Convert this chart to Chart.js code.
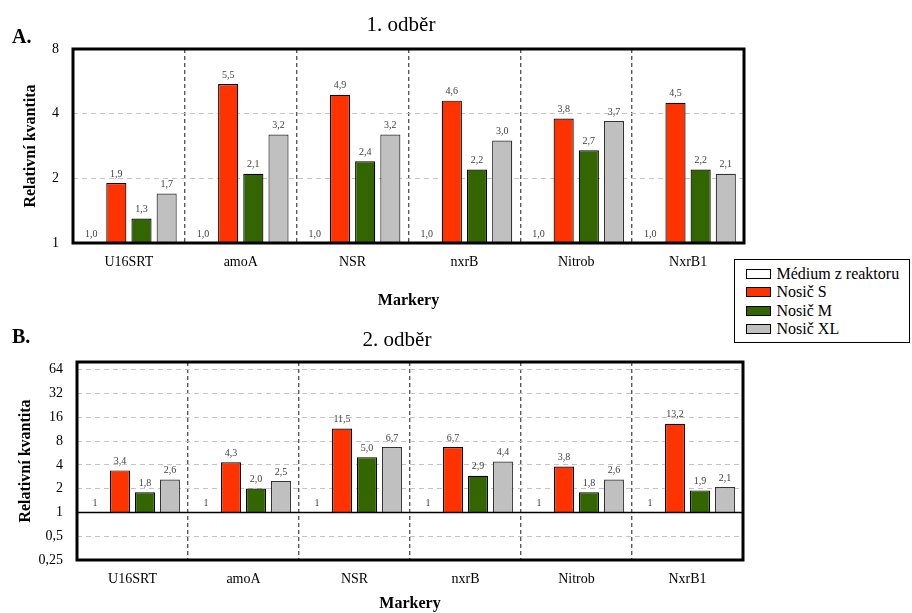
<!DOCTYPE html>
<html>
<head>
<meta charset="utf-8">
<script src="https://cdn.jsdelivr.net/npm/chart.js@4/dist/chart.umd.min.js"></script>
<style>
  html, body { margin: 0; padding: 0; background: #fff; }
  body { width: 912px; height: 613px; position: relative; overflow: hidden; font-family: "Liberation Serif", serif; }
  #c1 { position: absolute; left: 0; top: 0; }
  #c2 { position: absolute; left: 0; top: 313px; }
  #legend {
    position: absolute; left: 734px; top: 259px; width: 176px; height: 84px;
    box-sizing: border-box; border: 1.5px solid #000; background: #fff;
    padding: 5px 0 0 10.5px;
  }
  .row { display: flex; align-items: center; height: 18.3px; font-size: 16px; color: #000; white-space: nowrap; }
  .sw { width: 23px; height: 8px; border: 1px solid #000; margin-right: 6px; flex: none; }
</style>
</head>
<body>
<canvas id="c1" width="912" height="313"></canvas>
<canvas id="c2" width="912" height="300"></canvas>
<div id="legend"></div>
<script>
// Markers on the x axis
const categories = ['U16SRT', 'amoA', 'NSR', 'nxrB', 'Nitrob', 'NxrB1'];
const seriesNames = ['Médium z reaktoru', 'Nosič S', 'Nosič M', 'Nosič XL'];
const seriesColors = ['#FFFFFF', '#FF3300', '#336600', '#C0C0C0'];

// 1. odběr – relative quantity
const odber1Medium = [1.0, 1.0, 1.0, 1.0, 1.0, 1.0];
const odber1S      = [1.9, 5.5, 4.9, 4.6, 3.8, 4.5];
const odber1M      = [1.3, 2.1, 2.4, 2.2, 2.7, 2.2];
const odber1XL     = [1.7, 3.2, 3.2, 3.0, 3.7, 2.1];

// 2. odběr – relative quantity
const odber2Medium = [1, 1, 1, 1, 1, 1];
const odber2S      = [3.4, 4.3, 11.5, 6.7, 3.8, 13.2];
const odber2M      = [1.8, 2.0, 5.0, 2.9, 1.8, 1.9];
const odber2XL     = [2.6, 2.5, 6.7, 4.4, 2.6, 2.1];

// Log2 tick values of the y axes
const yTicks1 = [1, 2, 4, 8];
const yTicks2 = [0.25, 0.5, 1, 2, 4, 8, 16, 32, 64];

const SERIF = '"Liberation Serif", "Times New Roman", serif';

// Legend built from the series names and colours
const legendEl = document.getElementById('legend');
seriesNames.forEach((name, i) => {
  const row = document.createElement('div');
  row.className = 'row';
  const sw = document.createElement('span');
  sw.className = 'sw';
  sw.style.background = seriesColors[i];
  const tx = document.createElement('span');
  tx.textContent = name;
  row.appendChild(sw);
  row.appendChild(tx);
  legendEl.appendChild(row);
});

// Value labels above the bars
const valueLabels = {
  id: 'valueLabels',
  afterDatasetsDraw(chart, args, opts) {
    const ctx = chart.ctx;
    ctx.save();
    ctx.font = '10px ' + SERIF;
    ctx.fillStyle = '#404040';
    ctx.textAlign = 'center';
    ctx.textBaseline = 'middle';
    chart.data.datasets.forEach((ds, i) => {
      const meta = chart.getDatasetMeta(i);
      const dec = opts.decimals[i];
      meta.data.forEach((bar, j) => {
        const txt = ds.data[j].toFixed(dec).replace('.', ',');
        ctx.fillText(txt, bar.x, bar.y - 9);
      });
    });
    ctx.restore();
  }
};

// Heavy plot frame, optional solid reference line, heading and panel letter
const frame = {
  id: 'frame',
  afterDraw(chart, args, opts) {
    const ctx = chart.ctx;
    const a = chart.chartArea;
    ctx.save();
    if (opts.refLine !== undefined) {
      const y = chart.scales.y.getPixelForValue(opts.refLine);
      ctx.strokeStyle = '#000';
      ctx.lineWidth = 1.5;
      ctx.beginPath();
      ctx.moveTo(a.left, y);
      ctx.lineTo(a.right, y);
      ctx.stroke();
    }
    ctx.strokeStyle = '#000';
    ctx.lineWidth = 3;
    ctx.strokeRect(a.left, a.top, a.right - a.left, a.bottom - a.top);

    ctx.fillStyle = '#000';
    ctx.font = '21px ' + SERIF;
    ctx.textAlign = 'center';
    ctx.textBaseline = 'middle';
    ctx.fillText(opts.heading, opts.headingX, opts.headingY);

    ctx.font = 'bold 20px ' + SERIF;
    ctx.textAlign = 'left';
    ctx.textBaseline = 'alphabetic';
    ctx.fillText(opts.tag, 12, opts.tagY);
    ctx.restore();
  }
};

function buildChart(id, cfg) {
  const datasets = [cfg.medium, cfg.s, cfg.m, cfg.xl].map((data, i) => ({
    label: seriesNames[i],
    data: data,
    backgroundColor: seriesColors[i],
    borderColor: i === 3 ? '#333' : '#000',
    borderWidth: 1.2,
    base: 1,
    categoryPercentage: 0.9,
    barPercentage: 0.8
  }));
  return new Chart(document.getElementById(id), {
    type: 'bar',
    data: { labels: categories, datasets: datasets },
    plugins: [valueLabels, frame],
    options: {
      responsive: false,
      animation: false,
      devicePixelRatio: 1,
      layout: { padding: { left: cfg.padLeft, right: cfg.padRight, top: cfg.padTop, bottom: 0 } },
      plugins: {
        legend: { display: false },
        tooltip: { enabled: false },
        title: { display: false },
        valueLabels: { decimals: cfg.decimals },
        frame: {
          refLine: cfg.refLine, tag: cfg.tag, tagY: cfg.tagY,
          heading: cfg.heading, headingX: cfg.headingX, headingY: cfg.headingY
        }
      },
      scales: {
        x: {
          offset: true,
          grid: { display: true, offset: true, drawTicks: false, color: '#5a5a5a', lineWidth: 1.4 },
          border: { display: false, dash: [4, 3] },
          ticks: { color: '#000', padding: 11, font: { family: SERIF, size: 14 } },
          title: {
            display: true, text: 'Markery', color: '#000',
            font: { family: SERIF, size: 16, weight: 'bold' },
            padding: { top: 4, bottom: cfg.xTitleBottom }
          },
          afterFit(scale) { scale.height = cfg.xHeight; }
        },
        y: {
          type: 'logarithmic',
          min: cfg.yMin,
          max: cfg.yMax,
          afterBuildTicks(axis) { axis.ticks = cfg.yTicks.map(v => ({ value: v })); },
          grid: {
            drawTicks: false,
            lineWidth: 1,
            color: (ctx) => (ctx.tick && ctx.tick.value === cfg.refLine) ? 'rgba(0,0,0,0)' : '#c4c4c4'
          },
          border: { display: false, dash: [5, 4] },
          ticks: {
            autoSkip: false,
            color: '#000',
            padding: 14,
            font: { family: SERIF, size: 14 },
            callback: (v) => String(v).replace('.', ',')
          },
          title: {
            display: true, text: 'Relativní kvantita', color: '#000',
            font: { family: SERIF, size: 16, weight: 'bold' },
            padding: { top: 4, bottom: 4 }
          },
          afterFit(scale) { scale.width = cfg.yWidth; }
        }
      }
    }
  });
}

buildChart('c1', {
  heading: '1. odběr', headingX: 401, headingY: 25,
  medium: odber1Medium, s: odber1S, m: odber1M, xl: odber1XL,
  decimals: [1, 1, 1, 1],
  yMin: 1, yMax: 8, yTicks: yTicks1,
  padLeft: 17, yWidth: 56, padRight: 168, padTop: 49,
  xHeight: 70, xTitleBottom: 3,
  refLine: undefined, tag: 'A.', tagY: 43
});

buildChart('c2', {
  heading: '2. odběr', headingX: 397, headingY: 27,
  medium: odber2Medium, s: odber2S, m: odber2M, xl: odber2XL,
  decimals: [0, 1, 1, 1],
  yMin: 0.25, yMax: 80, yTicks: yTicks2,
  padLeft: 12, yWidth: 65, padRight: 169, padTop: 49,
  xHeight: 53, xTitleBottom: 0,
  refLine: 1, tag: 'B.', tagY: 30
});
</script>
</body>
</html>
